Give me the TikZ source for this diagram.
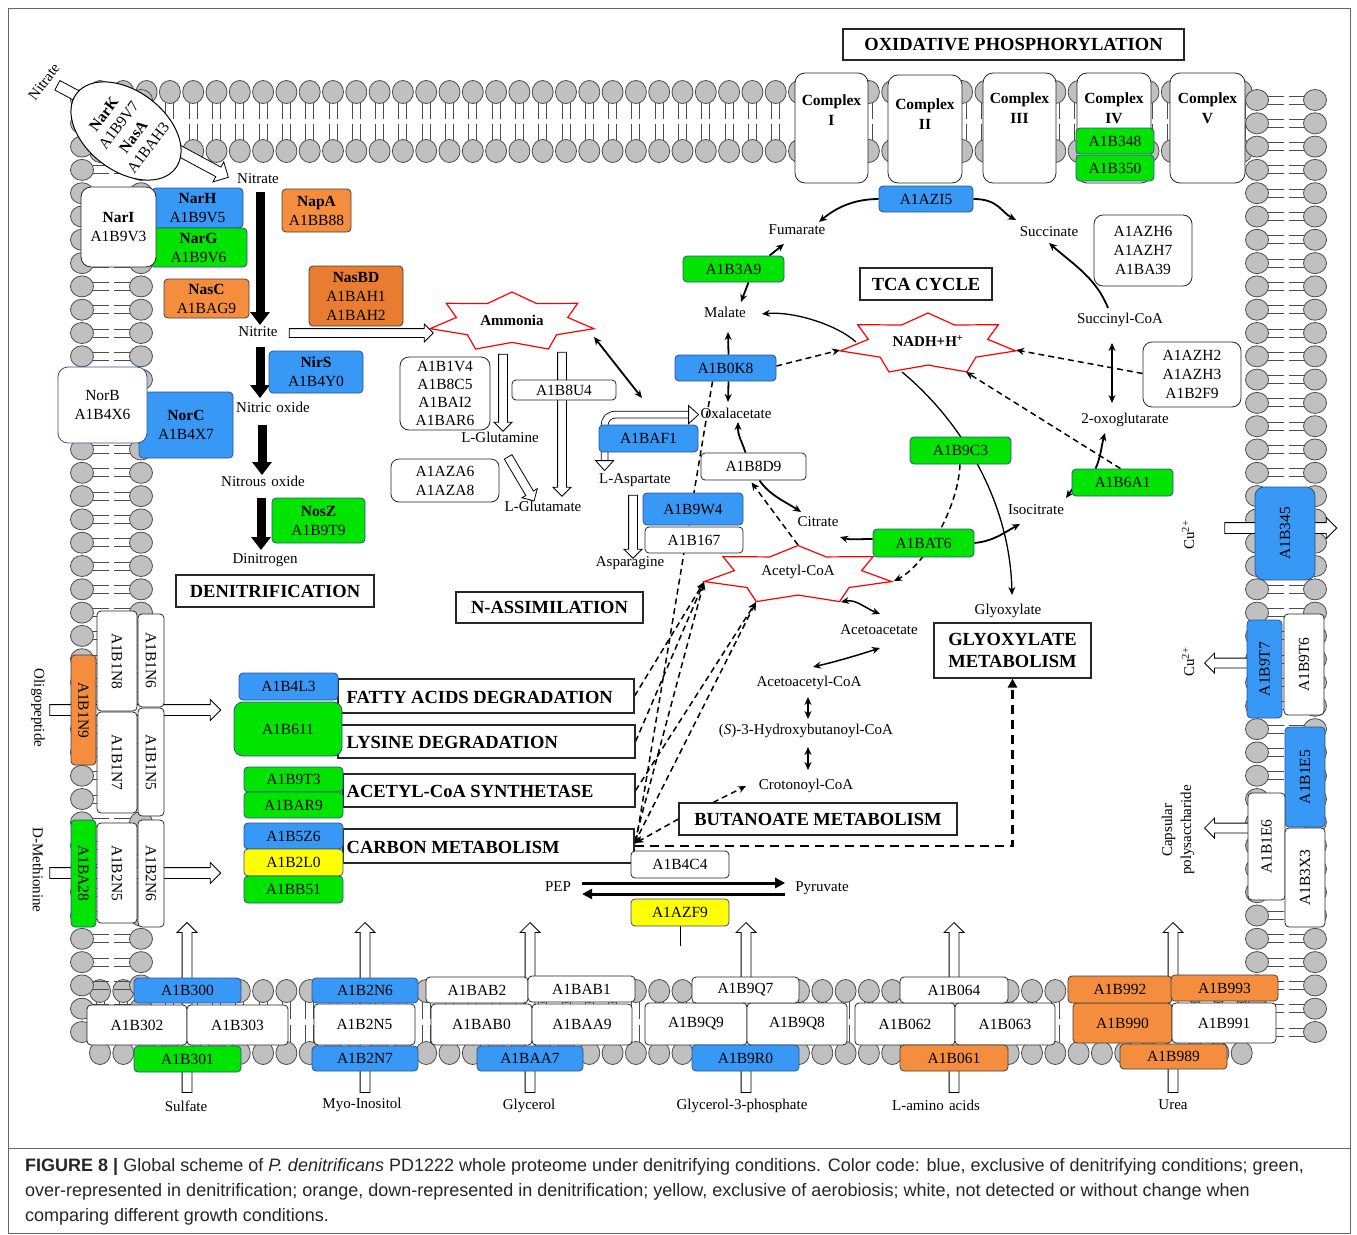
\documentclass[tikz,border=0pt]{standalone}
\usepackage{fontspec}
\setmainfont{Liberation Serif}
\newfontfamily\capfont{Liberation Sans}
\usetikzlibrary{arrows.meta,calc,shapes.arrows,shapes.geometric}
\pgfdeclarelayer{memb}
\pgfdeclarelayer{conn}
\pgfsetlayers{memb,conn,main}
\definecolor{cblue}{RGB}{55,152,245}
\definecolor{cbluebd}{RGB}{47,82,143}
\definecolor{cgreen}{RGB}{0,228,0}
\definecolor{corange}{RGB}{244,142,62}
\definecolor{corange2}{RGB}{232,124,48}
\definecolor{cyellow}{RGB}{255,255,0}
\definecolor{headgray}{RGB}{192,192,192}
\newcommand\fs[2]{\fontsize{#1}{#2}\selectfont}
\tikzset{
  pbox/.style={draw, rounded corners=4pt, inner sep=0pt, align=center, font=\fs{15.5}{19}, line width=0.8pt},
  cbl/.style={fill=cblue, draw=cbluebd},
  cgr/.style={fill=cgreen, draw=cbluebd},
  cor/.style={fill=corange, draw=black!75},
  cor2/.style={fill=corange2, draw=black!75},
  cye/.style={fill=cyellow, draw=cbluebd},
  cwh/.style={fill=white, draw=black!85},
  cwhb/.style={fill=white, draw=cbluebd},
  headsty/.style={draw=black!85, fill=white, line width=1.1pt, inner sep=0pt, align=center, font=\bfseries\fs{18.5}{22}},
  headt/.style={font=\bfseries\fs{18.5}{22}, inner sep=0pt},
  lab/.style={font=\fs{15}{18}, inner sep=1pt, text height=10.5pt, text depth=3pt},
  cplxt/.style={font=\bfseries\fs{15.5}{20}, align=center, inner sep=0pt},
  arr/.style={line width=1.8pt, -{Stealth[length=8pt,width=7pt]}},
  darr/.style={line width=1.8pt, {Stealth[length=8pt,width=7pt]}-{Stealth[length=8pt,width=7pt]}},
  dsh/.style={line width=1.5pt, dash pattern=on 6pt off 4pt, -{Stealth[length=8pt,width=7pt]}},
  bigarr/.style={line width=9pt, -{Triangle[length=13pt,width=19pt]}},
  harr/.style={single arrow, draw=black, fill=white, line width=0.8pt, inner xsep=0pt, inner ysep=4pt, single arrow head extend=4.5pt, single arrow tip angle=90, minimum width=0pt, outer sep=0pt},
  lipidhead/.style={fill=headgray, draw=black!70, line width=0.8pt},
  lipidtail/.style={draw=black!70, line width=0.9pt},
  starsty/.style={draw=red, line width=1.2pt, fill=white},
}
% box: [opts]{name}{x1}{y1}{x2}{y2}{style}{text}
\newcommand\pbox[8][]{\node[pbox,#7,#1,minimum width={(#5)-(#3)},minimum height={(#6)-(#4)}] (#2) at ({((#3)+(#5))/2},{((#4)+(#6))/2}) {#8};}
% rotated-text box
\newcommand\rpbox[9][]{\node[pbox,#7,#1,minimum width={(#5)-(#3)},minimum height={(#6)-(#4)}] (#2) at ({((#3)+(#5))/2},{((#4)+(#6))/2}) {};
  \node[rotate=#9, font=\fs{15.5}{19}, inner sep=0pt] (#2t) at (#2) {#8};}
% heading box
\newcommand\headbox[7][]{\node[headsty,#1,minimum width={(#5)-(#3)},minimum height={(#6)-(#4)}] (#2) at ({((#3)+(#5))/2},{((#4)+(#6))/2}) {#7};}
% hollow arrow
\newcommand\harrow[6][]{%
  \pgfmathsetmacro\hlen{veclen((#5)-(#3),(#6)-(#4))}%
  \pgfmathsetmacro\hang{atan2(-((#6)-(#4)),(#5)-(#3))}%
  \node[harr,#1,minimum height=\hlen pt,rotate=\hang] (#2) at ({((#3)+(#5))/2},{((#4)+(#6))/2}) {};}
% seven point star: name, cx, cy, rx, ry
\newcommand\redstar[5]{%
  \coordinate (#1) at (#2,#3);
  \draw[starsty, shift={(#2,#3)}] (-90:#4 and #5) \foreach \k in {0,...,6}{ -- ({-90+\k*360/7+360/14}:{0.68*#4} and {0.68*#5}) -- ({-90+(\k+1)*360/7}:#4 and #5)} -- cycle;}
\begin{document}
\begin{tikzpicture}[x=1pt,y=-1pt]
\useasboundingbox (0,0) rectangle (1357,1234);
%================ membranes =================
\begin{pgfonlayer}{memb}
\fill[white] (0,0) rectangle (1357,1234);
\draw[black!60, line width=1pt] (8,8) rectangle (1350,1233);
\draw[black!60, line width=1pt] (8,1148) -- (1350,1148);
\foreach \x in {100,123.3,...,1246}{
  \draw[lipidtail] (\x-4,103)--(\x-4,119) (\x+4,103)--(\x+4,119) (\x-4,124)--(\x-4,140) (\x+4,124)--(\x+4,140);
  \draw[lipidtail] (\x-4,1002)--(\x-4,1019) (\x+4,1002)--(\x+4,1019) (\x-4,1025)--(\x-4,1042) (\x+4,1025)--(\x+4,1042);
  \filldraw[lipidhead] (\x,92) ellipse (10.5 and 11.5) (\x,151) ellipse (10.5 and 11.5) (\x,991) ellipse (10.5 and 11.5) (\x,1053) ellipse (10.5 and 11.5);
}
\foreach \y in {100,123.3,...,1046}{
  \draw[lipidtail] (93,\y-4)--(109,\y-4) (93,\y+4)--(109,\y+4) (114,\y-4)--(130,\y-4) (114,\y+4)--(130,\y+4);
  \draw[lipidtail] (1268,\y-4)--(1284,\y-4) (1268,\y+4)--(1284,\y+4) (1289,\y-4)--(1304,\y-4) (1289,\y+4)--(1304,\y+4);
  \filldraw[lipidhead] (82,\y) ellipse (11.5 and 10.5) (141,\y) ellipse (11.5 and 10.5) (1257,\y) ellipse (11.5 and 10.5) (1315,\y) ellipse (11.5 and 10.5);
}
\end{pgfonlayer}
%================ oxidative phosphorylation =================
\headbox{oxphos}{843}{29}{1184}{60}{OXIDATIVE PHOSPHORYLATION}
\pbox[rounded corners=10pt]{c1}{795}{73}{868}{183}{cwh}{}
\pbox[rounded corners=10pt]{c2}{888}{75}{962}{183}{cwh}{}
\pbox[rounded corners=10pt]{c3}{983}{73}{1056}{183}{cwh}{}
\pbox[rounded corners=10pt]{c4}{1077}{73}{1151}{183}{cwh}{}
\pbox[rounded corners=10pt]{c5}{1170}{73}{1245}{183}{cwh}{}
\node[cplxt] (c1t) at ($(c1.north)+(0,38)$) {Complex\\I};
\node[cplxt] (c2t) at ($(c2.north)+(0,40)$) {Complex\\II};
\node[cplxt] (c3t) at ($(c3.north)+(0,36)$) {Complex\\III};
\node[cplxt] (c4t) at ($(c4.north)+(0,36)$) {Complex\\IV};
\node[cplxt] (c5t) at ($(c5.north)+(0,36)$) {Complex\\V};
\pbox{b348}{1076}{128}{1154}{154}{cgr}{A1B348}
\pbox{b350}{1076}{155}{1154}{181}{cgr}{A1B350}
%================ NarK =================
\node[draw, ellipse, fill=white, line width=1pt, minimum width=124pt, minimum height=80pt, rotate=-37] (nark) at (126,131) {};
\node[rotate=53, align=center, font=\fs{15.5}{18.5}, inner sep=0pt] (narkt) at (126,131) {\textbf{NarK}\\A1B9V7\\\textbf{NasA}\\A1BAH3};
\node[rotate=53, font=\fs{15}{18}, inner sep=0pt] (nitrext) at (44,82) {Nitrate};
%================ denitrification =================
\pbox{narh}{152}{188}{243}{228}{cbl}{\textbf{NarH}\\A1B9V5}
\pbox{narg}{150}{228}{247}{267}{cgr}{\textbf{NarG}\\A1B9V6}
\pbox[rounded corners=10pt]{nari}{81}{187}{156}{267}{cwh}{\textbf{NarI}\\A1B9V3}
\pbox{norc}{139}{392}{233}{458}{cbl}{\textbf{NorC}\\A1B4X7}
\pbox[rounded corners=10pt]{norb}{58}{367}{147}{443}{cwhb}{NorB\\A1B4X6}
\pbox{napa}{282}{189}{351}{232}{cor}{\textbf{NapA}\\A1BB88}
\pbox{nasc}{164}{279}{249}{318}{cor}{\textbf{NasC}\\A1BAG9}
\pbox{nasbd}{309}{266}{403}{326}{cor2}{\textbf{NasBD}\\A1BAH1\\A1BAH2}
\pbox{nirs}{269}{351}{363}{393}{cbl}{\textbf{NirS}\\A1B4Y0}
\pbox{nosz}{272}{498}{365}{543}{cgr}{\textbf{NosZ}\\A1B9T9}
\node[lab] (nitrateA) at (258,180) {Nitrate};
\node[lab] (nitrite) at (258,333) {Nitrite};
\node[lab] (nitricox) at (273,409) {Nitric\hspace{0.35em}oxide};
\node[lab] (nitrous) at (263,483) {Nitrous\hspace{0.35em}oxide};
\node[lab] (dinit) at (265,560) {Dinitrogen};
\headbox{denit}{176}{575}{374}{607}{DENITRIFICATION}
%================ N assimilation =================
\redstar{amm}{512}{322}{84}{30}
\node[font=\bfseries\fs{15}{18}] (ammt) at (512,320) {Ammonia};
\pbox[rounded corners=9pt, font=\fs{15.5}{18.3}]{b1v4}{400}{357}{490}{430}{cwh}{A1B1V4\\A1B8C5\\A1BAI2\\A1BAR6}
\node[lab] (gln) at (500,439) {L-Glutamine};
\pbox{b8u4}{512}{380}{616}{400}{cwh}{A1B8U4}
\pbox[rounded corners=8pt]{aza6}{391}{459}{499}{502}{cwh}{A1AZA6\\A1AZA8}
\node[lab] (glu) at (543,508) {L-Glutamate};
\pbox{baf1}{599}{425}{698}{452}{cbl}{A1BAF1}
\node[lab] (oxa) at (736,415) {Oxalacetate};
\node[lab] (asp) at (635,480) {L-Aspartate};
\node[lab] (aspn) at (630,563) {Asparagine};
\pbox{b9w4}{643}{493}{743}{525}{cbl}{A1B9W4}
\pbox{b167}{645}{527}{743}{553}{cwh}{A1B167}
\headbox{nassim}{456}{592}{643}{623}{N-ASSIMILATION}
%================ TCA =================
\pbox{azi5}{879}{186}{973}{212}{cbl}{A1AZI5}
\node[lab] (fum) at (797,231) {Fumarate};
\node[lab] (suc) at (1049,233) {Succinate};
\pbox[rounded corners=9pt]{azh6}{1094}{215}{1192}{286}{cwh}{A1AZH6\\A1AZH7\\A1BA39}
\headbox{tca}{860}{268}{992}{300}{TCA CYCLE}
\pbox{b3a9}{683}{256}{784}{282}{cgr}{A1B3A9}
\node[lab] (mal) at (725,314) {Malate};
\redstar{nadh}{928}{344}{90}{31}
\node[font=\bfseries\fs{15}{18}] (nadht) at (928,341) {NADH+H\textsuperscript{+}};
\node[lab] (succoa) at (1120,320) {Succinyl-CoA};
\pbox[rounded corners=9pt]{azh2}{1143}{342}{1241}{407}{cwh}{A1AZH2\\A1AZH3\\A1B2F9}
\pbox{b0k8}{675}{355}{776}{381}{cbl}{A1B0K8}
\node[lab] (oxo) at (1125,420) {2-oxoglutarate};
\pbox{b9c3}{910}{437}{1011}{464}{cgr}{A1B9C3}
\pbox{b8d9}{701}{453}{806}{480}{cwh}{A1B8D9}
\pbox{b6a1}{1072}{469}{1173}{496}{cgr}{A1B6A1}
\node[lab] (iso) at (1036,511) {Isocitrate};
\node[lab] (cit) at (818,523) {Citrate};
\pbox{bat6}{873}{529}{974}{557}{cgr}{A1BAT6}
\redstar{acoa}{798}{575}{96}{29.5}
\node[font=\fs{15}{18}] (acoat) at (798,572) {Acetyl-CoA};
\node[lab] (glx) at (1008,611) {Glyoxylate};
\headbox{glyo}{934}{623}{1091}{678}{GLYOXYLATE\\METABOLISM}
\node[lab] (acetoac) at (879,631) {Acetoacetate};
\node[lab] (acacoa) at (809,683) {Acetoacetyl-CoA};
\node[lab] (hbcoa) at (806,731) {(\textit{S})-3-Hydroxybutanoyl-CoA};
\node[lab] (crcoa) at (806,786) {Crotonoyl-CoA};
\headbox{buta}{679}{803}{957}{835}{BUTANOATE METABOLISM}
%================ left pathways =================
\headbox{fatty}{338}{679}{634}{713}{}
\headbox{lys}{338}{725}{635}{758}{}
\headbox{acsyn}{343}{774}{635}{807}{}
\headbox{carbon}{343}{829}{634}{863}{}
\node[headt, anchor=west] (fattyt) at ($(fatty.west)+(9,1)$) {FATTY ACIDS DEGRADATION};
\node[headt, anchor=west] (lyst) at ($(lys.west)+(9,1)$) {LYSINE DEGRADATION};
\node[headt, anchor=west] (acsynt) at ($(acsyn.west)+(4,1)$) {ACETYL-CoA SYNTHETASE};
\node[headt, anchor=west] (carbont) at ($(carbon.west)+(4,1)$) {CARBON METABOLISM};
\pbox{b4l3}{239}{673}{338}{700}{cbl}{A1B4L3}
\pbox[rounded corners=9pt]{b611}{234}{702}{342}{756}{cgr}{A1B611}
\pbox{b9t3}{244}{767}{343}{792}{cgr}{A1B9T3}
\pbox{bar9}{244}{792}{343}{818}{cgr}{A1BAR9}
\pbox{b5z6}{244}{823}{343}{849}{cbl}{A1B5Z6}
\pbox{b2l0}{244}{849}{343}{876}{cye}{A1B2L0}
\pbox{bb51}{244}{876}{343}{903}{cgr}{A1BB51}
\node[lab] (pep) at (558,888) {PEP};
\node[lab] (pyr) at (822,888) {Pyruvate};
\pbox{b4c4}{631}{851}{729}{878}{cwh}{A1B4C4}
\pbox{azf9}{631}{899}{729}{926}{cye}{A1AZF9}
%================ left membrane transporters =================
\rpbox{b1n9}{71}{655}{96}{765}{cor}{A1B1N9}{-90}
\rpbox{b1n8}{97}{611}{137}{711}{cwh}{A1B1N8}{-90}
\rpbox{b1n7}{97}{712}{137}{813}{cwh}{A1B1N7}{-90}
\rpbox{b1n6}{138}{614}{164}{707}{cwh}{A1B1N6}{-90}
\rpbox{b1n5}{138}{708}{164}{816}{cwh}{A1B1N5}{-90}
\rpbox{ba28}{71}{820}{96}{927}{cgr}{A1BA28}{-90}
\rpbox{lb2n5}{97}{823}{137}{923}{cwh}{A1B2N5}{-90}
\rpbox{lb2n6}{138}{820}{164}{927}{cwh}{A1B2N6}{-90}
\node[rotate=-90, font=\fs{15}{18}, inner sep=0pt] (oligo) at (38,708) {Oligopeptide};
\node[rotate=-90, font=\fs{15}{18}, inner sep=0pt] (dmet) at (38,870) {D-Methionine};
%================ right membrane transporters =================
\rpbox[rounded corners=9pt]{b345}{1255}{487}{1315}{580}{cbl}{A1B345}{90}
\rpbox{b9t7}{1247}{620}{1282}{718}{cbl}{A1B9T7}{90}
\rpbox{b9t6}{1284}{614}{1324}{715}{cwh}{A1B9T6}{90}
\rpbox{b1e5}{1285}{727}{1325}{827}{cbl}{A1B1E5}{90}
\rpbox{b1e6}{1248}{793}{1285}{900}{cwh}{A1B1E6}{90}
\rpbox{b3x3}{1285}{828}{1325}{927}{cwh}{A1B3X3}{90}
\node[rotate=90, font=\fs{15}{18}, inner sep=0pt] (cu1) at (1188,535) {Cu\textsuperscript{2+}};
\node[rotate=90, font=\fs{15}{18}, inner sep=0pt] (cu2) at (1188,662) {Cu\textsuperscript{2+}};
\node[rotate=90, font=\fs{15}{19}, align=center, inner sep=0pt] (capsl) at (1178,830) {Capsular\\polysaccharide};
%================ bottom membrane transporters =================
\pbox{b302}{87}{1005}{187}{1045}{cwh}{A1B302}
\pbox{b303}{187}{1005}{288}{1045}{cwh}{A1B303}
\pbox{b300}{134}{978}{241}{1003}{cbl}{A1B300}
\pbox{b301}{134}{1046}{241}{1072}{cgr}{A1B301}
\pbox{bb2n5}{314}{1004}{415}{1045}{cwh}{A1B2N5}
\pbox{bb2n6}{312}{978}{418}{1003}{cbl}{A1B2N6}
\pbox{bb2n7}{312}{1046}{418}{1071}{cbl}{A1B2N7}
\pbox{bab0}{431}{1004}{532}{1045}{cwh}{A1BAB0}
\pbox{baa9}{532}{1004}{632}{1045}{cwh}{A1BAA9}
\pbox{bab2}{426}{977}{528}{1003}{cwh}{A1BAB2}
\pbox{bab1}{528}{976}{635}{1002}{cwh}{A1BAB1}
\pbox{baa7}{477}{1046}{583}{1071}{cbl}{A1BAA7}
\pbox{b9q9}{645}{1003}{747}{1045}{cwh}{A1B9Q9}
\pbox{b9q8}{747}{1003}{847}{1045}{cwh}{A1B9Q8}
\pbox{b9q7}{692}{977}{799}{1003}{cwh}{A1B9Q7}
\pbox{b9r0}{692}{1045}{799}{1071}{cbl}{A1B9R0}
\pbox{b062}{855}{1003}{955}{1045}{cwh}{A1B062}
\pbox{b063}{955}{1003}{1055}{1045}{cwh}{A1B063}
\pbox{b064}{900}{977}{1008}{1003}{cwh}{A1B064}
\pbox{b061}{900}{1045}{1008}{1071}{cor}{A1B061}
\pbox{b990}{1073}{1003}{1172}{1043}{cor}{A1B990}
\pbox{b991}{1172}{1003}{1276}{1043}{cwh}{A1B991}
\pbox{b992}{1068}{976}{1172}{1003}{cor}{A1B992}
\pbox{b993}{1171}{975}{1278}{1001}{cor}{A1B993}
\pbox{b989}{1120}{1044}{1227}{1069}{cor}{A1B989}
\node[lab] (sulf) at (186,1108) {Sulfate};
\node[lab] (myo) at (362,1105) {Myo-Inositol};
\node[lab] (glyc) at (529,1106) {Glycerol};
\node[lab] (g3p) at (742,1106) {Glycerol-3-phosphate};
\node[lab] (lamino) at (936,1107) {L-amino\hspace{0.35em}acids};
\node[lab] (urea) at (1173,1106) {Urea};
%================ caption =================
\node[anchor=base west, font=\capfont\fs{18}{22}, inner sep=0pt, text=black!85] (cap1) at (25,1171) {\textbf{FIGURE 8 |} Global scheme of \textit{P. denitrificans} PD1222 whole proteome under denitrifying conditions. Color code: blue, exclusive of denitrifying conditions; green,};
\node[anchor=base west, font=\capfont\fs{18}{22}, inner sep=0pt, text=black!85] (cap2) at (25,1196) {over-represented in denitrification; orange, down-represented in denitrification; yellow, exclusive of aerobiosis; white, not detected or without change when};
\node[anchor=base west, font=\capfont\fs{18}{22}, inner sep=0pt, text=black!85] (cap3) at (25,1221) {comparing different growth conditions.};
%================ connectors =================
\begin{pgfonlayer}{conn}
\harrow[inner ysep=5pt,single arrow head extend=6pt]{hnin}{55}{84}{226}{176}
\harrow{hna}{287}{333}{431}{333}
\harrow{hgln}{503}{352}{503}{429}
\harrow{hglu}{562}{350}{562}{494}
\harrow{hgg}{507}{455}{533}{499}
\harrow{hasn}{633}{493}{633}{556}
\harrow[inner ysep=5pt,single arrow head extend=5pt]{holi}{47}{710}{218}{710}
\harrow[inner ysep=5pt,single arrow head extend=5pt]{hmet}{47}{873}{218}{873}
\harrow[inner ysep=5pt,single arrow head extend=5pt]{hcu1}{1222}{528}{1334}{528}
\harrow[inner ysep=4.5pt,single arrow head extend=5pt]{hcu2}{1265}{663}{1207}{663}
\harrow[inner ysep=4.5pt,single arrow head extend=5pt]{hcap}{1265}{828}{1207}{828}
\foreach \xx/\nm in {187/hs,365/hm,530/hg,746/hgp,954/hla,1173/hu}{\harrow[inner ysep=4.5pt,single arrow head extend=5pt]{\nm}{\xx}{1095}{\xx}{925}}
% U-shaped hollow arrow oxalacetate / L-aspartate
\draw[line width=0.8pt, double=white, double distance=6pt] ($(baf1.north west)+(6,36)$) -- ($(baf1.north west)+(6,2)$) .. controls +(0,-8) and +(-8,0) .. ($(baf1.north west)+(18,-10)$) -- ($(baf1.north west)+(90,-10)$);
\filldraw[fill=white, line width=0.8pt] ($(baf1.north west)+(90,-19)$) -- ($(baf1.north west)+(100,-10)$) -- ($(baf1.north west)+(90,-1)$) -- cycle;
\filldraw[fill=white, line width=0.8pt] ($(baf1.north west)+(-3,36)$) -- ($(baf1.north west)+(6,46)$) -- ($(baf1.north west)+(15,36)$) -- cycle;
% denitrification
\draw[bigarr] ($(nitrateA.south)+(2,4)$) -- ($(nitrite.north)+(2,0)$);
\draw[bigarr] ($(nitrite.south)+(2,6)$) -- ($(nitricox.north)+(-13,-3)$);
\draw[bigarr] ($(nitricox.south)+(-11,8)$) -- ($(nitrous.north)+(-1,0)$);
\draw[bigarr] ($(nitrous.south)+(-2,7)$) -- ($(dinit.north)+(-4,-2)$);
% ammonia - oxalacetate
\draw[darr] ($(amm)+(82,15)$) -- ($(oxa)+(-94,-17)$);
% TCA cycle
\draw[arr] (azi5.west) .. controls +(-30,0) and +(12,-10) .. ($(fum)+(22,-9)$);
\draw[arr] (azi5.east) .. controls +(25,0) and +(-15,-8) .. ($(suc)+(-33,-13)$);
\draw[arr] ($(succoa)+(-12,-12)$) .. controls +(-12,-30) and +(25,22) .. ($(suc)+(0,10)$);
\draw[arr] ($(b3a9.north)+(36,0)$) -- ($(fum)+(-13,13)$);
\draw[arr] ($(b3a9.south)+(15,0)$) -- ($(mal)+(16,-12)$);
\draw[line width=1.3pt, -{Stealth[length=8pt,width=7pt]}] ($(nadh)+(-72,-2)$) .. controls +(-20,-18) and +(30,-3) .. ($(mal)+(37,0)$);
\draw[arr] ($(b0k8.north)+(3,0)$) -- ($(mal)+(3,18)$);
\draw[arr] ($(b0k8.south)+(3,0)$) -- ($(oxa)+(-8,-13)$);
\draw[dsh] ($(b0k8.east)+(0,-2)$) -- ($(nadh)+(-88,6)$);
\draw[arr] ($(b8d9.north)+(-8,0)$) .. controls +(-5,-15) and +(0,15) .. ($(oxa)+(2,7)$);
\draw[arr] ($(b8d9.south)+(6,0)$) .. controls +(10,15) and +(-15,-10) .. ($(cit)+(-17,-11)$);
\draw[dsh] ($(acoa)+(0,-30)$) -- ($(b8d9.south)+(-2,2)$);
\draw[arr] ($(bat6.west)+(0,-4)$) .. controls +(-15,0) and +(10,3) .. ($(cit)+(22,14)$);
\draw[arr] (bat6.east) .. controls +(20,-2) and +(-15,8) .. ($(iso)+(-16,13)$);
\draw[arr] ($(b6a1.west)+(2,5)$) -- ($(iso)+(30,-13)$);
\draw[arr] ($(b6a1.north)+(-27,0)$) .. controls +(5,-10) and +(-3,10) .. ($(oxo)+(-20,13)$);
\draw[darr] ($(succoa)+(-8,23)$) -- ($(oxo)+(-13,-17)$);
\draw[dsh] ($(azh2.west)+(0,-1)$) -- ($(nadh)+(88,6)$);
\draw[dsh] ($(b6a1.north)+(-2,0)$) -- ($(nadh)+(38,28)$);
\draw[line width=1.3pt, -{Stealth[length=8pt,width=7pt]}] ($(nadh)+(-26,28)$) .. controls +(58,48) and +(-2,-95) .. ($(glx)+(4,-16)$);
\draw[dsh] ($(b9c3.south)+(-0.5,0)$) .. controls +(-2,45) and +(30,-15) .. ($(acoa)+(96,6)$);
% butanoate
\draw[darr, line width=1.5pt] ($(acoa)+(43,27)$) .. controls +(15,-3) and +(-15,-6) .. ($(acetoac)+(1,-17)$);
\draw[darr, line width=1.5pt] ($(acetoac)+(1,17)$) .. controls +(-25,8) and +(25,-6) .. ($(acacoa)+(4,-16)$);
\draw[darr] ($(acacoa)+(-1,14)$) -- ($(hbcoa)+(2,-12)$);
\draw[darr] ($(hbcoa)+(2,16)$) -- ($(crcoa)+(2,-16)$);
\draw[dsh] ($(buta.north)+(-105,0)$) -- ($(crcoa)+(-60,0)$);
\draw[dsh] (buta.west) -- ($(carbon.east)+(1,-3)$);
\draw[line width=2.8pt, dash pattern=on 9pt off 6pt, -{Triangle[length=9pt,width=9pt]}] (carbon.east) -| (glyo.south);
% fan of dashed connectors to acetyl-CoA
\draw[dsh] (fatty.east) -- ($(acoa)+(-94,7)$);
\draw[dsh] (lys.east) -- ($(acoa)+(-94,7)$);
\draw[dsh] (acsyn.east) -- ($(acoa)+(-42,27)$);
\draw[dsh] ($(carbon.east)+(0,-3)$) -- ($(acoa)+(-42,27)$);
\draw[dsh] ($(carbon.east)+(0,-4)$) -- ($(acoa)+(-94,7)$);
\draw[dsh] ($(b0k8.south)+(-13,0)$) -- ($(carbon.east)+(1,-2)$);
% PEP / pyruvate
\draw[line width=3pt, -{Triangle[length=10pt,width=10pt]}] ($(pep.east)+(10,-5)$) -- ($(pyr.west)+(-9,-5)$);
\draw[line width=3pt, -{Triangle[length=10pt,width=10pt]}] ($(pyr.west)+(-9,6)$) -- ($(pep.east)+(10,6)$);
\draw[line width=1pt] (azf9.south) -- ++(0,20);
\end{pgfonlayer}
\end{tikzpicture}
\end{document}
